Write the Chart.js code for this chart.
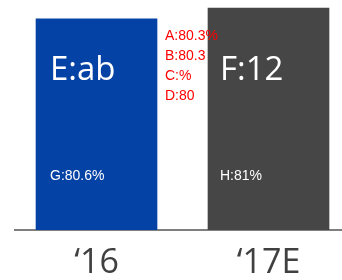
<!DOCTYPE html>
<html>
<head>
<meta charset="utf-8">
<script src="https://cdn.jsdelivr.net/npm/chart.js@4/dist/chart.umd.min.js"></script>
<style>
  html, body { margin: 0; padding: 0; background: #ffffff; }
  #wrap { width: 342px; height: 280px; position: relative; }
</style>
</head>
<body>
<div id="wrap"><canvas id="c"></canvas></div>
<script>
const categories = ["\u201816", "\u201817E"];
const positions = [0, 1];
const values = [80.3, 80.6];
const barColors = ["#0542A5", "#464646"];

const points = positions.map((p, i) => ({ x: p, y: values[i] }));

const testPlugin = {
  id: 'testText',
  afterDraw(chart) {
    const ctx = chart.ctx;
    ctx.save();
    ctx.font = '14px sans-serif';
    ctx.fillStyle = 'red';
    ctx.fillText('A:80.3%', 165, 40);
    ctx.fillText('B:80.3', 165, 60);
    ctx.fillText('C:%', 165, 80);
    ctx.fillText('D:80', 165, 100);
    ctx.fillStyle = '#ffffff';
    ctx.font = '33px "Open Sans"';
    ctx.fillText('E:ab', 50, 80);
    ctx.fillText('F:12', 220, 80);
    ctx.font = '14px sans-serif';
    ctx.fillText('G:80.6%', 50, 180);
    ctx.fillText('H:81%', 220, 180);
    ctx.restore();
  }
};

new Chart(document.getElementById('c'), {
  type: 'bar',
  data: {
    datasets: [{
      data: points,
      backgroundColor: barColors,
      borderWidth: 0,
      barThickness: 121
    }]
  },
  options: {
    responsive: true,
    maintainAspectRatio: false,
    animation: false,
    layout: { padding: { left: 15, right: 0, top: 0, bottom: 0 } },
    plugins: { legend: { display: false }, tooltip: { enabled: false } },
    scales: {
      x: {
        type: 'linear',
        offset: false,
        min: -0.4739,
        max: 1.4273,
        afterBuildTicks(scale) { scale.ticks = positions.map(v => ({ value: v })); },
        afterFit(scale) { scale.paddingLeft = 0; scale.paddingRight = 0; scale.height = 50; },
        grid: { display: false, drawTicks: false },
        border: { display: true, color: '#7f7f7f', width: 2 },
        ticks: {
          autoSkip: false,
          maxRotation: 0,
          padding: 16,
          color: '#404040',
          font: { family: 'Open Sans', size: 34, lineHeight: 1 },
          callback: (v) => categories[positions.indexOf(v)] || ''
        }
      },
      y: { display: false, min: 74.5, max: 80.82 }
    }
  },
  plugins: [testPlugin]
});
</script>
</body>
</html>
